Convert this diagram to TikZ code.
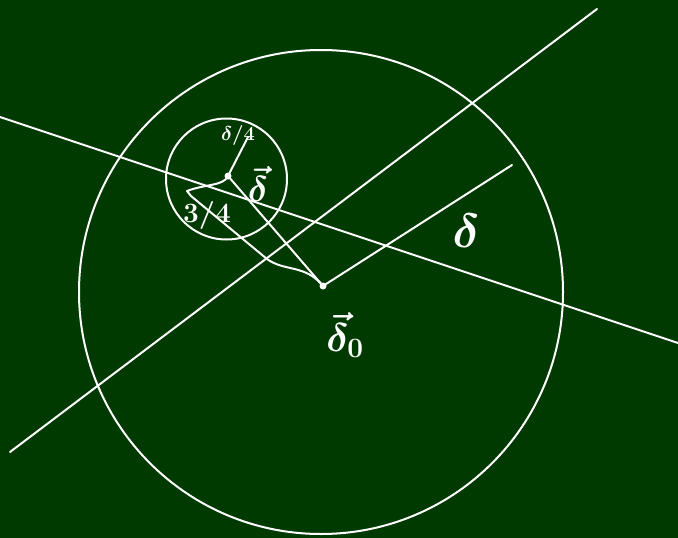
\documentclass[tikz,border=0pt]{standalone}
\usepackage{fix-cm}
\usepackage{amsmath,amssymb}
\usepackage{xcolor}
\usepackage{tikz}
\usetikzlibrary{positioning}
\definecolor{board}{RGB}{0,58,0}

\begin{document}
\begin{tikzpicture}[x=1pt,y=-1pt]
\tikzstyle{point}=[circle,fill=white,inner sep=0pt,minimum size=7pt]
\tikzstyle{chalk}=[white,line width=2pt,line cap=round,line join=round]
\tikzstyle{hand}=[text=white,inner sep=0pt]

\fill[board] (0,0) rectangle (678,538);
\useasboundingbox (0,0) rectangle (678,538);

\draw[chalk] (321,292) circle (242pt);
\draw[chalk] (226.5,179) circle (60.5pt);

\node[point] (sc) at (228,176) {};
\node[point] (mc) at (323,286) {};
\coordinate (bend) at (187,191);
\coordinate (rtip) at (248,137);
\coordinate (dtip) at (512,165);
\coordinate (a1) at (0,117);
\coordinate (a2) at (678,343);
\coordinate (b1) at (10,452);
\coordinate (b2) at (597,9);

\draw[chalk] (a1) -- (a2);
\draw[chalk] (b1) -- (b2);
\draw[chalk] (mc.center) -- (dtip);
\draw[chalk] (sc.center) -- (rtip);
\draw[chalk] (sc.center) -- (mc.center);
\draw[chalk] (sc.center) .. controls (224,186) and (205,184) .. (bend) -- (191,196) -- (267,259)
  .. controls (285,272) and (305,264) .. (mc.center);

\node[hand,font=\fontsize{48}{48}\selectfont\boldmath] (dl) at (466,231) {$\delta$};
\node[hand,font=\fontsize{40}{40}\selectfont\boldmath] (r0l) at (345,335) {$\vec{\delta}_0$};
\node[hand,font=\fontsize{36}{36}\selectfont\boldmath] (rl) at (258,184) {$\vec{\delta}$};
\node[hand,font=\fontsize{20}{20}\selectfont\boldmath] (ql) at (238,135) {$\delta/4$};
\node[hand,font=\fontsize{28}{28}\selectfont\boldmath] (tl) at (207,215) {$3/4$};

\end{tikzpicture}
\end{document}
